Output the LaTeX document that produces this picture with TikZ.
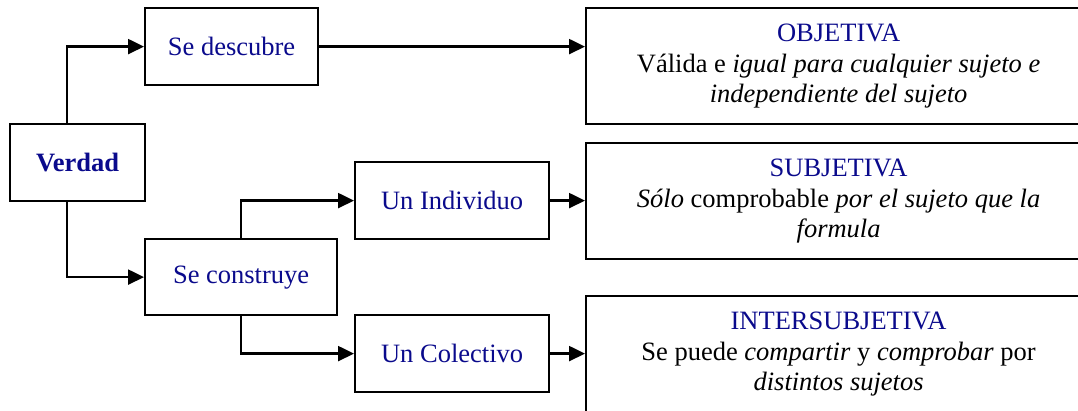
\documentclass[tikz,border=0pt]{standalone}
\usepackage{fontspec}
\setmainfont{Liberation Serif}
\usetikzlibrary{arrows.meta}
\definecolor{txtblue}{RGB}{10,10,140}
\begin{document}
\begin{tikzpicture}[x=1pt,y=-1pt,
  box/.style={draw=black,line width=2.2pt,rectangle,anchor=north west,inner sep=0pt,
    font=\fontsize{26.5}{30.5}\selectfont,text=txtblue},
  bigbox/.style={draw=black,line width=2.2pt,rectangle,anchor=north west,inner sep=0pt,
    font=\fontsize{26.5}{30.5}\selectfont,text=black,align=center,
    minimum width=505pt,minimum height=116pt},
  conn/.style={line width=2.4pt,-{Triangle[length=16pt,width=15pt]}}]
\useasboundingbox (0,0) rectangle (1078,410);
\clip (0,0) rectangle (1078,410);
\fill[white] (0,0) rectangle (1078,410);
\node[box,minimum width=135pt,minimum height=77pt,font=\fontsize{26.5}{30.5}\selectfont\bfseries] (verdad) at (9,123) {Verdad};
\node[box,minimum width=173pt,minimum height=77pt] (desc) at (144,7) {Se descubre};
\node[box,minimum width=192pt,minimum height=76pt] (cons) at (144,238) {Se construye};
\node[box,minimum width=194pt,minimum height=77pt] (indiv) at (354,161) {Un Individuo};
\node[box,minimum width=194pt,minimum height=77pt] (colec) at (354,314) {Un Colectivo};
\node[bigbox] (obj) at (585,7) {\textcolor{txtblue}{OBJETIVA}\\V\'alida e \textit{igual para cualquier sujeto e}\\\textit{independiente del sujeto}};
\node[bigbox] (subj) at (585,142) {\textcolor{txtblue}{SUBJETIVA}\\\textit{S\'olo} comprobable \textit{por el sujeto que la}\\\textit{formula}};
\node[bigbox] (inter) at (585,295) {\textcolor{txtblue}{INTERSUBJETIVA}\\Se puede \textit{compartir} y \textit{comprobar} por\\\textit{distintos sujetos}};
\coordinate (vx) at (67,0);
\draw[conn] (verdad.north -| vx) |- (desc.west);
\draw[conn] (verdad.south -| vx) |- (cons.west);
\draw[conn] (cons.north) |- (indiv.west);
\draw[conn] (cons.south) |- (colec.west);
\draw[conn] (desc.east) -- (desc.east -| obj.west);
\draw[conn] (indiv.east) -- (indiv.east -| subj.west);
\draw[conn] (colec.east) -- (colec.east -| inter.west);
\end{tikzpicture}
\end{document}
